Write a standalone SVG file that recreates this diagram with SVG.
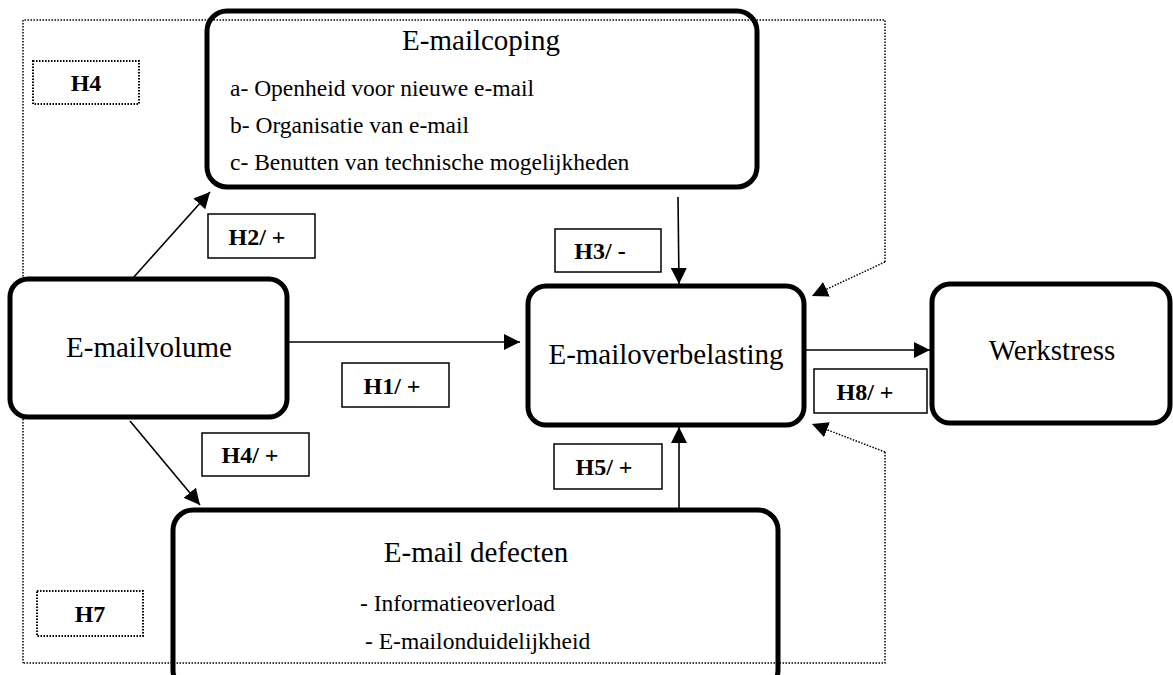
<svg xmlns="http://www.w3.org/2000/svg" width="1173" height="675" viewBox="0 0 1173 675">
<style>
.node{fill:none;stroke:#000;stroke-width:5}
.fill{fill:#fff}
.lbl{fill:#fff;stroke:#000;stroke-width:1.5}
.dlbl{fill:#fff;stroke:#000;stroke-width:2;stroke-dasharray:1.5 1.5}
.dot{fill:none;stroke:#000;stroke-width:1.5;stroke-dasharray:1.5 1.5}
.con{fill:none;stroke:#000;stroke-width:1.6}
.t{font-family:"Liberation Serif","Times New Roman",serif;fill:#000}
.big{font-size:29px}
.sm{font-size:23.5px}
.b{font-family:"Liberation Serif","Times New Roman",serif;font-weight:bold;font-size:24px;fill:#000}
</style>
<defs>
<marker id="ah" viewBox="0 0 10 10" refX="10" refY="5" markerWidth="16" markerHeight="16" markerUnits="userSpaceOnUse" orient="auto">
<path d="M0,0 L10,5 L0,10 z" fill="#000"/>
</marker>
</defs>
<rect width="1173" height="675" fill="#fff"/>
<g id="frame">
<path class="dot" d="M23,20 L23,663"/>
</g>
<g id="volume">
<rect class="node fill" x="10" y="279" width="277" height="138" rx="18"/>
<text class="t big" x="149" y="357" text-anchor="middle">E-mailvolume</text>
</g>
<g id="connectors">
<path class="dot" d="M885,262 L885,20 L23,20" />
<path class="dot" d="M885,452 L885,663 L23,663" />
<path class="dot" d="M885,262 L812,296" marker-end="url(#ah)"/>
<path class="dot" d="M885,452 L812,424" marker-end="url(#ah)"/>
<path class="con" d="M133,278 L210,192" marker-end="url(#ah)"/>
<path class="con" d="M130,421 L200,505" marker-end="url(#ah)"/>
<path class="con" d="M288,342 L520,342" marker-end="url(#ah)"/>
<path class="con" d="M678,197 L679,284" marker-end="url(#ah)"/>
<path class="con" d="M679,508 L679,427" marker-end="url(#ah)"/>
<path class="con" d="M806,350 L930,350" marker-end="url(#ah)"/>
</g>
<g id="coping">
<rect class="node" x="207" y="11" width="550" height="176" rx="20"/>
<text class="t big" x="481" y="50" text-anchor="middle">E-mailcoping</text>
<text class="t sm" x="230" y="96">a- Openheid voor nieuwe e-mail</text>
<text class="t sm" x="230" y="133">b- Organisatie van e-mail</text>
<text class="t sm" x="230" y="170">c- Benutten van technische mogelijkheden</text>
</g>
<g id="overbelasting">
<rect class="node" x="528" y="286" width="276" height="139" rx="18"/>
<text class="t big" x="666" y="364" text-anchor="middle">E-mailoverbelasting</text>
</g>
<g id="werkstress">
<rect class="node" x="932" y="284" width="238" height="139" rx="18"/>
<text class="t big" x="1052" y="360" text-anchor="middle">Werkstress</text>
</g>
<g id="defecten">
<rect class="node" x="173" y="510" width="605" height="180" rx="20"/>
<text class="t big" x="476" y="562" text-anchor="middle">E-mail defecten</text>
<text class="t sm" x="360" y="611">- Informatieoverload</text>
<text class="t sm" x="365" y="649">- E-mailonduidelijkheid</text>
</g>
<g id="labels">
<rect class="dlbl" x="33" y="61" width="106" height="43"/>
<text class="b" x="86" y="91" text-anchor="middle">H4</text>
<rect class="dlbl" x="37" y="591" width="106" height="45"/>
<text class="b" x="90" y="622" text-anchor="middle">H7</text>
<rect class="lbl" x="208" y="214" width="107" height="44"/>
<text class="b" x="257" y="245" text-anchor="middle">H2/ +</text>
<rect class="lbl" x="555" y="229" width="106" height="43"/>
<text class="b" x="600" y="259" text-anchor="middle">H3/ -</text>
<rect class="lbl" x="342" y="363" width="107" height="44"/>
<text class="b" x="392" y="394" text-anchor="middle">H1/ +</text>
<rect class="lbl" x="202" y="433" width="107" height="43"/>
<text class="b" x="250" y="463" text-anchor="middle">H4/ +</text>
<rect class="lbl" x="554" y="444" width="108" height="45"/>
<text class="b" x="604" y="475" text-anchor="middle">H5/ +</text>
<rect class="lbl" x="814" y="369" width="113" height="44"/>
<text class="b" x="865" y="400" text-anchor="middle">H8/ +</text>
</g>
</svg>
